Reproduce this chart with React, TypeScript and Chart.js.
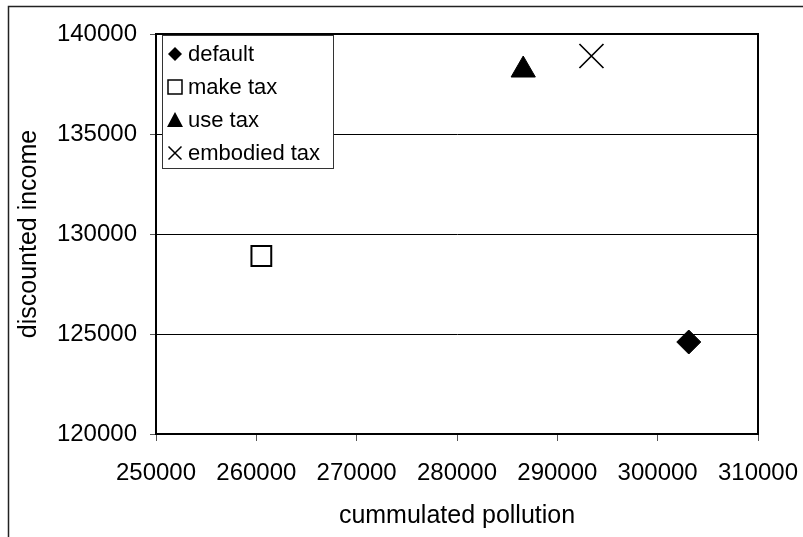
import React, { useEffect, useRef } from "react";
import { Chart, registerables } from "chart.js";

Chart.register(...registerables);

const seriesNames = ["default", "make tax", "use tax", "embodied tax"];
const pollution = [303100, 260500, 286600, 293400];
const income = [124600, 128900, 138200, 138900];
const xTicks = [250000, 260000, 270000, 280000, 290000, 300000, 310000];
const yTicks = [120000, 125000, 130000, 135000, 140000];
const xTitle = "cummulated pollution";
const yTitle = "discounted income";

const FONT = "'Liberation Sans', Arial, sans-serif";

function drawSymbol(ctx: CanvasRenderingContext2D, kind: number, x: number, y: number) {
  ctx.save();
  ctx.fillStyle = "#000";
  ctx.strokeStyle = "#000";
  ctx.beginPath();
  if (kind === 0) {
    const s = 7;
    ctx.moveTo(x - s, y);
    ctx.lineTo(x, y - s);
    ctx.lineTo(x + s, y);
    ctx.lineTo(x, y + s);
    ctx.closePath();
    ctx.fill();
  } else if (kind === 1) {
    const s = 7;
    ctx.lineWidth = 1.5;
    ctx.fillStyle = "#fff";
    ctx.rect(x - s, y - s, s * 2, s * 2);
    ctx.fill();
    ctx.stroke();
  } else if (kind === 2) {
    const s = 8;
    ctx.moveTo(x, y - s);
    ctx.lineTo(x + s, y + s - 1);
    ctx.lineTo(x - s, y + s - 1);
    ctx.closePath();
    ctx.fill();
  } else {
    const s = 6.5;
    ctx.lineWidth = 1.5;
    ctx.moveTo(x - s, y - s);
    ctx.lineTo(x + s, y + s);
    ctx.moveTo(x + s, y - s);
    ctx.lineTo(x - s, y + s);
    ctx.stroke();
  }
  ctx.restore();
}

const framePlugin = {
  id: "frame",
  beforeDraw(chart: any) {
    const ctx = chart.ctx;
    ctx.save();
    ctx.strokeStyle = "#222";
    ctx.lineWidth = 1.5;
    ctx.beginPath();
    ctx.moveTo(8.5, chart.height + 2);
    ctx.lineTo(8.5, 6.5);
    ctx.lineTo(chart.width + 2, 6.5);
    ctx.stroke();
    ctx.restore();
  },
  afterDatasetsDraw(chart: any) {
    const { left, top, right, bottom } = chart.chartArea;
    const ctx = chart.ctx;
    ctx.save();
    ctx.strokeStyle = "#000";
    ctx.lineWidth = 2;
    ctx.beginPath();
    ctx.moveTo(left, top);
    ctx.lineTo(right, top);
    ctx.lineTo(right, bottom);
    ctx.stroke();
    ctx.restore();
  },
  afterDraw(chart: any) {
    const { left, top } = chart.chartArea;
    const ctx = chart.ctx;
    const bx = left + 6;
    const by = top + 1;
    const bw = 171;
    const bh = 133;
    ctx.save();
    ctx.fillStyle = "#fff";
    ctx.fillRect(bx, by, bw, bh);
    ctx.strokeStyle = "#333";
    ctx.lineWidth = 1;
    ctx.strokeRect(bx + 0.5, by + 0.5, bw, bh);
    ctx.font = `22px ${FONT}`;
    ctx.textBaseline = "middle";
    ctx.textAlign = "left";
    ctx.fillStyle = "#000";
    seriesNames.forEach((name, i) => {
      const cy = by + 19 + i * 33;
      drawSymbol(ctx, i, bx + 13, cy);
      ctx.fillText(name, bx + 26, cy + 1);
    });
    ctx.restore();
  },
};

export default function App() {
  const ref = useRef<HTMLCanvasElement>(null);
  useEffect(() => {
    if (!ref.current) return;
    const styles: any[] = ["rectRot", "rect", "triangle", "crossRot"];
    const radii = [12, 14, 14, 17];
    const bg = ["#000", "#fff", "#000", "#000"];
    const bw = [1, 2, 1, 1.7];
    const chart = new Chart(ref.current, {
      type: "scatter",
      data: {
        datasets: seriesNames.map((name, i) => ({
          label: name,
          data: [{ x: pollution[i], y: income[i] }],
          pointStyle: styles[i],
          pointRadius: radii[i],
          pointHoverRadius: radii[i],
          backgroundColor: bg[i],
          borderColor: "#000",
          borderWidth: bw[i],
        })),
      },
      options: {
        animation: false,
        responsive: false,
        events: [],
        layout: { padding: { left: 0, right: 45, top: 34, bottom: 0 } },
        plugins: { legend: { display: false }, tooltip: { enabled: false } },
        scales: {
          x: {
            type: "linear",
            min: xTicks[0],
            max: xTicks[xTicks.length - 1],
            afterBuildTicks: (s: any) => {
              s.ticks = xTicks.map((v) => ({ value: v }));
            },
            ticks: {
              callback: (v: any) => String(v),
              font: { family: FONT, size: 24 },
              color: "#000",
              padding: 18,
              maxRotation: 0,
              autoSkip: false,
            },
            grid: { drawOnChartArea: false, drawTicks: true, tickLength: 7, color: "#000", tickColor: "#555" },
            border: { display: true, color: "#000", width: 2 },
            title: {
              display: true,
              text: xTitle,
              font: { family: FONT, size: 25 },
              color: "#000",
              padding: { top: 0, bottom: 6 },
            },
            afterFit: (s: any) => {
              s.height = 103;
              s.paddingLeft = 0;
              s.paddingRight = 0;
            },
          },
          y: {
            type: "linear",
            min: yTicks[0],
            max: yTicks[yTicks.length - 1],
            afterBuildTicks: (s: any) => {
              s.ticks = yTicks.map((v) => ({ value: v }));
            },
            ticks: {
              callback: (v: any) => String(v),
              font: { family: FONT, size: 24 },
              color: "#000",
              padding: 13,
            },
            grid: { drawOnChartArea: true, drawTicks: true, tickLength: 6, color: "#000", lineWidth: 1, tickColor: "#555" },
            border: { display: true, color: "#000", width: 2 },
            title: {
              display: true,
              text: yTitle,
              font: { family: FONT, size: 25 },
              color: "#000",
              padding: { top: 14, bottom: 0 },
            },
            afterFit: (s: any) => {
              s.width = 156;
              s.paddingTop = 0;
              s.paddingBottom = 0;
            },
          },
        },
      },
      plugins: [framePlugin],
    });
    return () => chart.destroy();
  }, []);
  return (
    <div style={{ position: "fixed", left: 0, top: 0, width: 803, height: 537, background: "#fff" }}>
      <canvas ref={ref} width={803} height={537} style={{ display: "block", width: 803, height: 537 }} />
    </div>
  );
}
